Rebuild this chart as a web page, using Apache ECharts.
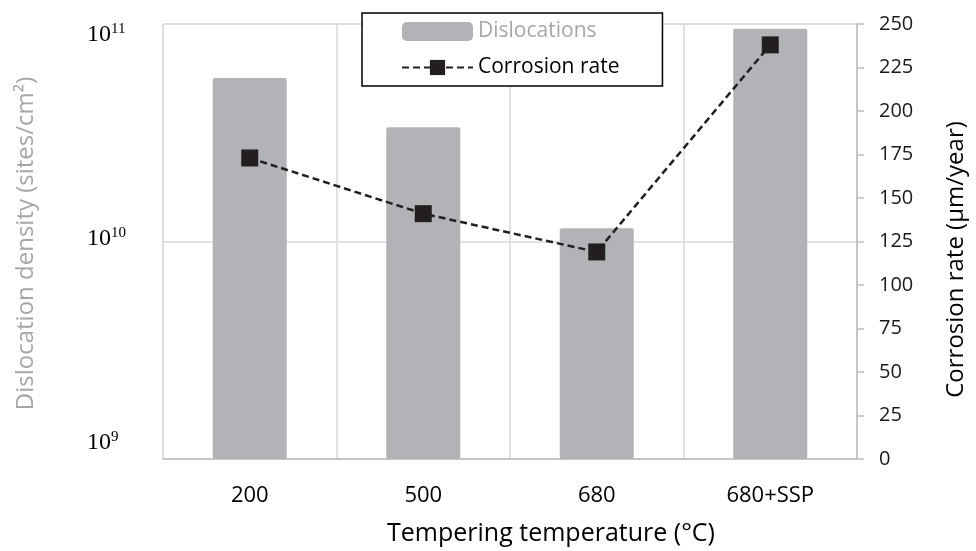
<!DOCTYPE html>
<html>
<head>
<meta charset="utf-8">
<title>Dislocation density and corrosion rate vs tempering temperature</title>
<script src="https://cdn.jsdelivr.net/npm/echarts@6/dist/echarts.min.js"></script>
<style>
  html, body { margin: 0; padding: 0; background: #fff; }
  #chart { width: 976px; height: 551px; }
</style>
</head>
<body>
<div id="chart"></div>
<script>
// Tempering conditions
const categories = ['200', '500', '680', '680+SSP'];
// Dislocation density, sites/cm²
const dislocations = [5.65e10, 3.35e10, 1.15e10, 9.5e10];
// Corrosion rate, µm/year
const corrosionRate = [173, 141, 119, 238];
// Right axis range
const rateMin = 0, rateMax = 250, rateStep = 25;

const sansFont = '"Open Sans", "Noto Sans", sans-serif';
const serifFont = '"Liberation Serif", "DejaVu Serif", serif';
const barGray = '#b2b3b6';
const lightGray = '#a6a6a6';

// Rich styles for the power-of-ten labels (base + superscript, nudged per decade)
const powRich = {
  b11: { fontFamily: serifFont, fontSize: 24, color: '#000', padding: [22, 0, 0, 0] },
  s11: { fontFamily: serifFont, fontSize: 15, color: '#000', padding: [11, 0, 0, 0] },
  b10: { fontFamily: serifFont, fontSize: 24, color: '#000', padding: [0, 0, 6, 0] },
  s10: { fontFamily: serifFont, fontSize: 15, color: '#000', padding: [0, 0, 17, 0] },
  b9:  { fontFamily: serifFont, fontSize: 24, color: '#000', padding: [0, 0, 32, 0] },
  s9:  { fontFamily: serifFont, fontSize: 15, color: '#000', padding: [0, 0, 43, 0] }
};

const chart = echarts.init(document.getElementById('chart'), null, { renderer: 'canvas' });

chart.setOption({
  animation: false,
  backgroundColor: '#fff',
  textStyle: { fontFamily: sansFont },
  grid: {
    left: 163, right: 113, top: 24, bottom: 91,
    show: true, borderColor: '#d9d9d9', borderWidth: 1
  },
  legend: {
    orient: 'vertical',
    left: 362, top: 13,
    padding: [8, 43, 8, 39],
    itemWidth: 71, itemHeight: 19, itemGap: 15,
    backgroundColor: '#fff',
    borderColor: '#000', borderWidth: 1.5,
    textStyle: { fontFamily: sansFont, fontSize: 21, lineHeight: 19 },
    data: [
      { name: 'Dislocations', icon: 'roundRect', textStyle: { color: lightGray } },
      { name: 'Corrosion rate', textStyle: { color: '#000' } }
    ]
  },
  xAxis: {
    type: 'category',
    data: categories,
    name: 'Tempering temperature (°C)',
    nameLocation: 'middle',
    nameGap: 62,
    nameTextStyle: { fontFamily: sansFont, fontSize: 25, color: '#000', padding: [0, 0, 0, 82] },
    axisLine: { lineStyle: { color: '#bfbfbf', width: 1.5 } },
    axisTick: { show: false },
    axisLabel: { margin: 26, fontFamily: sansFont, fontSize: 22, color: '#000' },
    splitLine: { show: true, lineStyle: { color: '#d9d9d9', width: 1.5 } }
  },
  yAxis: [
    {
      type: 'log',
      logBase: 10,
      min: 1e9, max: 1e11,
      splitNumber: 2,
      name: 'Dislocation density (sites/cm²)',
      nameLocation: 'middle',
      nameRotate: 90,
      nameGap: 125,
      nameTextStyle: { fontFamily: sansFont, fontSize: 24, color: lightGray, padding: [0, 4, 0, 0] },
      axisLine: { show: false },
      axisTick: { show: false },
      axisLabel: {
        align: 'left',
        margin: 76,
        formatter: function (v) {
          const e = Math.round(Math.log10(v));
          return '{b' + e + '|10}{s' + e + '|' + e + '}';
        },
        rich: powRich
      },
      splitLine: { show: true, lineStyle: { color: '#d9d9d9', width: 1.5 } }
    },
    {
      type: 'value',
      position: 'right',
      min: rateMin, max: rateMax, interval: rateStep,
      name: 'Corrosion rate (µm/year)',
      nameLocation: 'middle',
      nameRotate: 90,
      nameGap: 87,
      nameTextStyle: { fontFamily: sansFont, fontSize: 24, color: '#000', padding: [0, 36, 0, 0] },
      axisLine: { show: true, lineStyle: { color: '#bfbfbf', width: 1.5 } },
      axisTick: { show: true, length: 7, lineStyle: { color: '#bfbfbf', width: 1.5 } },
      axisLabel: { margin: 22, fontFamily: sansFont, fontSize: 20, color: '#1a1a1a' },
      splitLine: { show: false }
    }
  ],
  series: [
    {
      name: 'Dislocations',
      type: 'bar',
      yAxisIndex: 0,
      data: dislocations,
      barWidth: 74,
      itemStyle: { color: barGray, borderRadius: 2 },
      z: 2
    },
    {
      name: 'Corrosion rate',
      type: 'line',
      yAxisIndex: 1,
      data: corrosionRate,
      symbol: 'rect',
      symbolSize: 17,
      itemStyle: { color: '#231f20' },
      lineStyle: { color: '#231f20', width: 2.5, type: [7, 4] },
      z: 3
    }
  ]
});
</script>
</body>
</html>
